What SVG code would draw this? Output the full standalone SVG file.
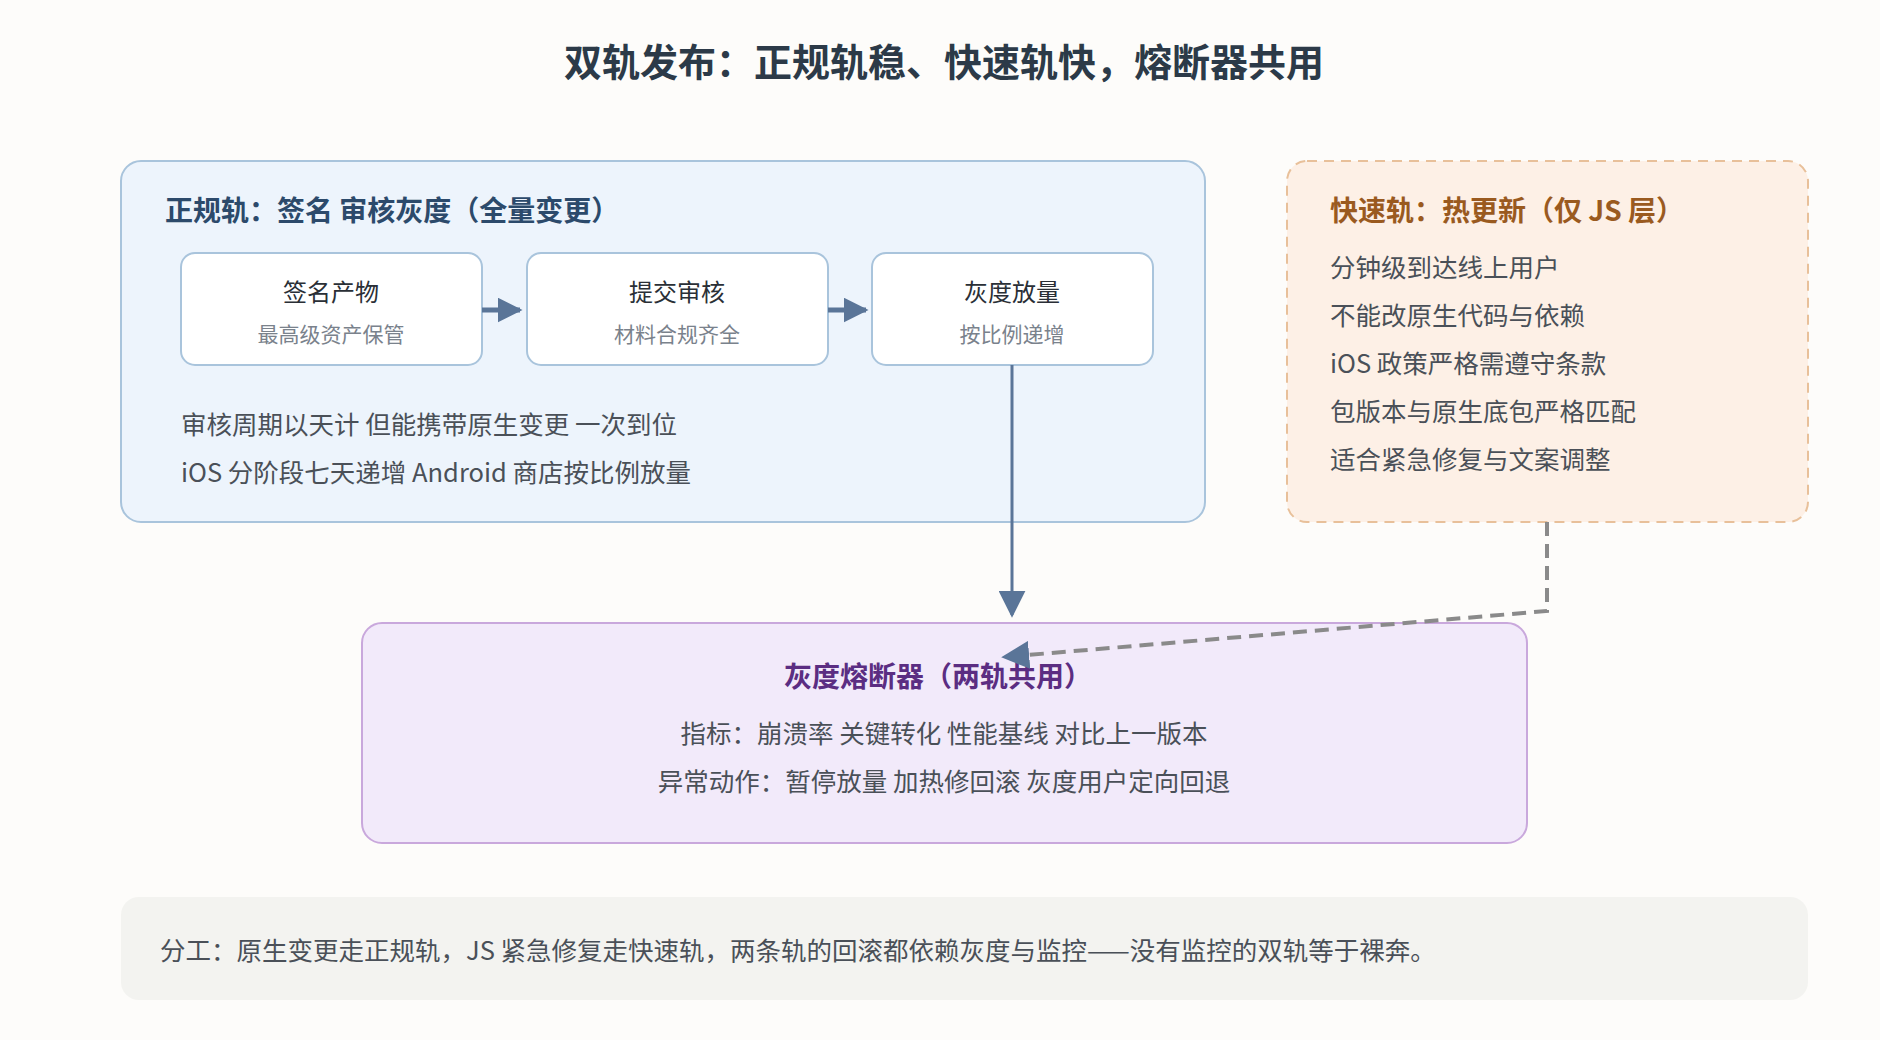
<svg xmlns="http://www.w3.org/2000/svg" width="1880" height="1040" viewBox="0 0 1880 1040">
<defs>
<marker id="ab" viewBox="0 0 10 10" refX="9" refY="5" markerWidth="5" markerHeight="5" orient="auto" markerUnits="strokeWidth"><path d="M0,0L10,5L0,10z" fill="#5a7598"/></marker>
<marker id="ag" viewBox="0 0 10 10" refX="9" refY="5" markerWidth="7" markerHeight="7" orient="auto" markerUnits="strokeWidth"><path d="M0,0L10,5L0,10z" fill="#5a7598"/></marker>
<marker id="av" viewBox="0 0 10 10" refX="9" refY="5" markerWidth="9" markerHeight="9" orient="auto" markerUnits="strokeWidth"><path d="M0,0L10,5L0,10z" fill="#5a7598"/></marker>
</defs>
<style>
text{font-family:"Noto Sans CJK SC","Noto Sans",sans-serif}
.h{font-weight:bold;font-size:28px}
.t{font-size:24px;fill:#2a2f36;text-anchor:middle}
.s{font-size:21px;fill:#7a828c;text-anchor:middle}
.b{font-size:25.5px;fill:#4a5058}
.sub{fill:#fff;stroke:#a9c4dc;stroke-width:2}
</style>
<rect width="1880" height="1040" fill="#fdfcfa"/>
<text x="944" y="76" text-anchor="middle" font-size="38" font-weight="bold" fill="#2c3a48">双轨发布：正规轨稳、快速轨快，熔断器共用</text>
<g id="formal">
<rect x="121" y="161" width="1084" height="361" rx="20" fill="#edf4fc" stroke="#a9c4dc" stroke-width="2"/>
<text x="165" y="221" class="h" fill="#2c4a6b">正规轨：签名 审核灰度（全量变更）</text>
<text x="181" y="434" class="b">审核周期以天计 但能携带原生变更 一次到位</text>
<text x="181" y="482" class="b">iOS 分阶段七天递增 Android 商店按比例放量</text>
</g>
<g id="sign"><rect x="181" y="253" width="301" height="112" rx="14" class="sub"/><text x="331" y="301" class="t">签名产物</text><text x="331" y="342" class="s">最高级资产保管</text></g>
<g id="review"><rect x="527" y="253" width="301" height="112" rx="14" class="sub"/><text x="677" y="301" class="t">提交审核</text><text x="677" y="342" class="s">材料合规齐全</text></g>
<g id="gray"><rect x="872" y="253" width="281" height="112" rx="14" class="sub"/><text x="1012" y="301" class="t">灰度放量</text><text x="1012" y="342" class="s">按比例递增</text></g>
<g id="fast">
<rect x="1287" y="161" width="521" height="361" rx="20" fill="#fdf0e6" stroke="#e8c09a" stroke-width="2" stroke-dasharray="10 7"/>
<text x="1330" y="221" class="h" fill="#9a5a1f">快速轨：热更新（仅 JS 层）</text>
<text x="1330" y="277" class="b">分钟级到达线上用户</text>
<text x="1330" y="325" class="b">不能改原生代码与依赖</text>
<text x="1330" y="373" class="b">iOS 政策严格需遵守条款</text>
<text x="1330" y="421" class="b">包版本与原生底包严格匹配</text>
<text x="1330" y="469" class="b">适合紧急修复与文案调整</text>
</g>
<g id="breaker">
<rect x="362" y="623" width="1165" height="220" rx="20" fill="#f2eafa" stroke="#c9a8dc" stroke-width="2"/>
<text x="938" y="687" text-anchor="middle" class="h" fill="#5b2d82">灰度熔断器（两轨共用）</text>
<text x="944" y="743" text-anchor="middle" class="b">指标：崩溃率 关键转化 性能基线 对比上一版本</text>
<text x="944" y="791" text-anchor="middle" class="b">异常动作：暂停放量 加热修回滚 灰度用户定向回退</text>
</g>
<g id="footer">
<rect x="121" y="897" width="1687" height="103" rx="18" fill="#f3f3f0"/>
<text x="160" y="960" class="b" font-size="26">分工：原生变更走正规轨，JS 紧急修复走快速轨，两条轨的回滚都依赖灰度与监控——没有监控的双轨等于裸奔。</text>
</g>
<g id="connectors" fill="none">
<line x1="482" y1="310" x2="520" y2="310" stroke="#5a7598" stroke-width="5" marker-end="url(#ab)"/>
<line x1="828" y1="310" x2="866" y2="310" stroke="#5a7598" stroke-width="5" marker-end="url(#ab)"/>
<line x1="1012" y1="365" x2="1012" y2="615" stroke="#5a7598" stroke-width="3" marker-end="url(#av)"/>
<path d="M1547,522V611L1004,657" stroke="#8a8a8a" stroke-width="4" stroke-dasharray="14 8" marker-end="url(#ag)"/>
</g>
</svg>
